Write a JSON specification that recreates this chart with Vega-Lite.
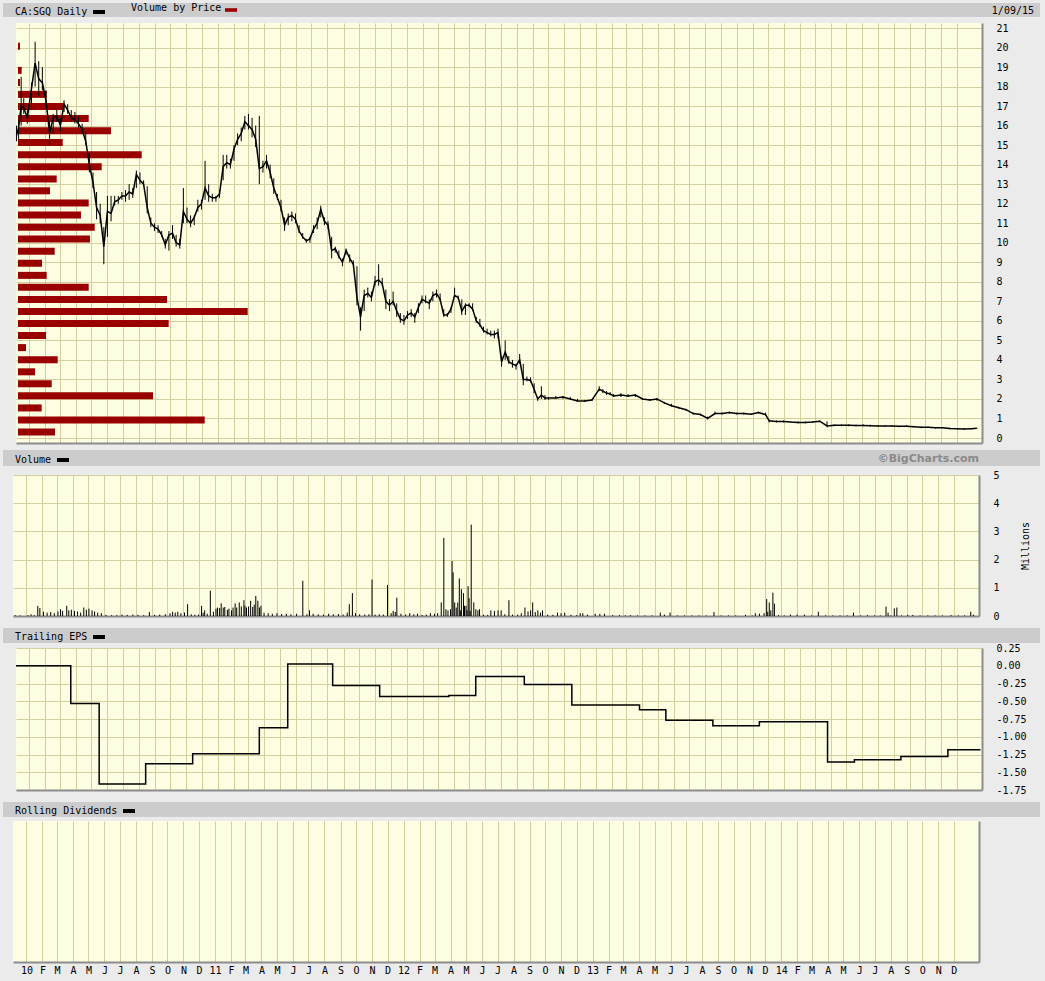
{
  "$schema": "https://vega.github.io/schema/vega-lite/v6.json",
  "background": "#ebebeb",
  "padding": {"left": 3, "top": 3, "right": 5, "bottom": 0},
  "config": {
    "font": "DejaVu Sans Mono",
    "view": {"stroke": null},
    "axis": {"labelFont": "DejaVu Sans Mono", "labelFontSize": 10, "labelColor": "black", "gridColor": "#d3d09e", "gridOpacity": 1, "gridWidth": 1, "domainColor": "#8c8c8c", "domainWidth": 2, "ticks": false, "titleFont": "DejaVu Sans Mono", "titleFontSize": 10, "titleFontWeight": "normal", "titleColor": "black"},
    "legend": {"titleFont": "DejaVu Sans Mono", "titleFontSize": 10, "titleFontWeight": "normal", "titleColor": "black", "titlePadding": 3, "padding": 0, "labelOffset": 0, "labelFontSize": 1, "symbolOpacity": 1},
    "title": {"font": "DejaVu Sans Mono", "fontSize": 10, "fontWeight": "normal", "color": "black"}
  },
  "datasets": {
    "price": [
      {"d":"2009-12-07","lo":15.2,"hi":16.0,"c":15.5},{"d":"2009-12-11","lo":15.3,"hi":16.2,"c":15.9},{"d":"2009-12-16","lo":16.0,"hi":18.5,"c":17.0},{"d":"2009-12-21","lo":16.6,"hi":17.4,"c":16.9},{"d":"2009-12-28","lo":16.1,"hi":16.8,"c":16.4},
      {"d":"2010-01-05","lo":16.8,"hi":18.2,"c":17.9},{"d":"2010-01-12","lo":18.0,"hi":20.3,"c":19.2},{"d":"2010-01-19","lo":17.5,"hi":19.3,"c":18.4},{"d":"2010-01-26","lo":17.8,"hi":19.0,"c":18.2},{"d":"2010-02-02","lo":17.0,"hi":17.8,"c":17.3},
      {"d":"2010-02-09","lo":15.0,"hi":16.2,"c":15.6},{"d":"2010-02-16","lo":15.6,"hi":16.6,"c":16.4},{"d":"2010-02-23","lo":16.2,"hi":16.8,"c":16.5},{"d":"2010-03-02","lo":15.7,"hi":16.4,"c":16.0},{"d":"2010-03-09","lo":16.7,"hi":17.3,"c":17.1},
      {"d":"2010-03-16","lo":16.6,"hi":17.1,"c":16.8},{"d":"2010-03-23","lo":16.2,"hi":16.8,"c":16.4},{"d":"2010-03-30","lo":16.1,"hi":16.7,"c":16.3},{"d":"2010-04-06","lo":15.9,"hi":16.5,"c":16.1},{"d":"2010-04-13","lo":15.6,"hi":16.1,"c":15.8},
      {"d":"2010-04-20","lo":15.0,"hi":15.7,"c":15.2},{"d":"2010-04-27","lo":13.6,"hi":14.6,"c":14.0},{"d":"2010-05-04","lo":12.8,"hi":13.6,"c":13.1},{"d":"2010-05-11","lo":11.2,"hi":12.6,"c":11.8},{"d":"2010-05-18","lo":11.0,"hi":12.0,"c":11.4},
      {"d":"2010-05-25","lo":8.9,"hi":10.8,"c":9.8},{"d":"2010-06-01","lo":10.3,"hi":12.4,"c":11.6},{"d":"2010-06-08","lo":11.1,"hi":12.4,"c":11.5},{"d":"2010-06-15","lo":11.9,"hi":12.4,"c":12.1},{"d":"2010-06-22","lo":12.0,"hi":12.4,"c":12.2},
      {"d":"2010-06-29","lo":12.2,"hi":12.6,"c":12.4},{"d":"2010-07-06","lo":12.1,"hi":12.7,"c":12.4},{"d":"2010-07-13","lo":12.2,"hi":13.0,"c":12.6},{"d":"2010-07-20","lo":12.3,"hi":12.8,"c":12.5},{"d":"2010-07-27","lo":12.8,"hi":13.7,"c":13.5},
      {"d":"2010-08-03","lo":13.0,"hi":13.6,"c":13.2},{"d":"2010-08-10","lo":12.9,"hi":13.2,"c":13.0},{"d":"2010-08-17","lo":11.5,"hi":12.9,"c":11.8},{"d":"2010-08-24","lo":10.8,"hi":11.3,"c":11.0},{"d":"2010-08-31","lo":10.6,"hi":11.0,"c":10.8},
      {"d":"2010-09-07","lo":10.5,"hi":10.9,"c":10.7},{"d":"2010-09-14","lo":10.3,"hi":10.6,"c":10.4},{"d":"2010-09-21","lo":9.7,"hi":10.2,"c":9.9},{"d":"2010-09-28","lo":9.6,"hi":10.6,"c":10.4},{"d":"2010-10-05","lo":10.2,"hi":10.9,"c":10.5},
      {"d":"2010-10-12","lo":9.8,"hi":10.4,"c":10.0},{"d":"2010-10-19","lo":9.7,"hi":10.2,"c":9.9},{"d":"2010-10-26","lo":11.0,"hi":12.8,"c":11.6},{"d":"2010-11-02","lo":11.0,"hi":11.8,"c":11.2},{"d":"2010-11-09","lo":10.8,"hi":11.4,"c":11.0},
      {"d":"2010-11-16","lo":10.9,"hi":11.4,"c":11.3},{"d":"2010-11-23","lo":11.6,"hi":12.2,"c":11.8},{"d":"2010-11-30","lo":11.7,"hi":12.2,"c":12.0},{"d":"2010-12-07","lo":12.2,"hi":14.2,"c":12.8},{"d":"2010-12-14","lo":12.1,"hi":13.0,"c":12.4},
      {"d":"2010-12-21","lo":12.1,"hi":12.5,"c":12.3},{"d":"2010-12-28","lo":12.1,"hi":12.4,"c":12.3},{"d":"2011-01-04","lo":12.3,"hi":12.7,"c":12.5},{"d":"2011-01-11","lo":13.2,"hi":14.5,"c":13.9},{"d":"2011-01-18","lo":13.8,"hi":14.5,"c":14.1},
      {"d":"2011-01-25","lo":13.8,"hi":14.3,"c":14.0},{"d":"2011-02-01","lo":14.2,"hi":15.0,"c":14.8},{"d":"2011-02-08","lo":15.0,"hi":15.6,"c":15.3},{"d":"2011-02-15","lo":15.2,"hi":15.9,"c":15.6},{"d":"2011-02-22","lo":15.8,"hi":16.5,"c":16.2},
      {"d":"2011-03-01","lo":15.8,"hi":16.6,"c":16.0},{"d":"2011-03-08","lo":15.4,"hi":16.4,"c":15.8},{"d":"2011-03-15","lo":14.9,"hi":16.0,"c":15.3},{"d":"2011-03-22","lo":13.0,"hi":16.5,"c":13.8},{"d":"2011-03-29","lo":13.6,"hi":14.2,"c":13.9},
      {"d":"2011-04-05","lo":13.8,"hi":14.5,"c":14.2},{"d":"2011-04-12","lo":13.3,"hi":14.0,"c":13.6},{"d":"2011-04-19","lo":12.5,"hi":13.3,"c":12.8},{"d":"2011-04-26","lo":12.2,"hi":12.5,"c":12.3},{"d":"2011-05-03","lo":11.6,"hi":12.2,"c":11.8},
      {"d":"2011-05-10","lo":10.6,"hi":11.3,"c":10.9},{"d":"2011-05-17","lo":10.9,"hi":11.5,"c":11.3},{"d":"2011-05-24","lo":11.1,"hi":11.6,"c":11.4},{"d":"2011-05-31","lo":11.0,"hi":11.5,"c":11.2},{"d":"2011-06-07","lo":10.5,"hi":10.9,"c":10.6},
      {"d":"2011-06-14","lo":10.2,"hi":10.5,"c":10.3},{"d":"2011-06-21","lo":10.0,"hi":10.2,"c":10.1},{"d":"2011-06-28","lo":10.0,"hi":10.3,"c":10.2},{"d":"2011-07-05","lo":10.5,"hi":10.9,"c":10.7},{"d":"2011-07-12","lo":10.7,"hi":11.3,"c":11.0},
      {"d":"2011-07-19","lo":11.3,"hi":11.9,"c":11.7},{"d":"2011-07-26","lo":10.9,"hi":11.3,"c":11.1},{"d":"2011-08-02","lo":10.7,"hi":11.1,"c":10.9},{"d":"2011-08-09","lo":9.2,"hi":10.3,"c":9.6},{"d":"2011-08-16","lo":9.5,"hi":9.8,"c":9.7},
      {"d":"2011-08-23","lo":9.2,"hi":9.6,"c":9.3},{"d":"2011-08-30","lo":8.8,"hi":9.2,"c":9.0},{"d":"2011-09-06","lo":9.4,"hi":9.7,"c":9.6},{"d":"2011-09-13","lo":9.0,"hi":9.4,"c":9.2},{"d":"2011-09-20","lo":8.8,"hi":9.1,"c":8.9},
      {"d":"2011-09-27","lo":6.8,"hi":8.8,"c":7.2},{"d":"2011-10-04","lo":5.5,"hi":6.7,"c":6.2},{"d":"2011-10-11","lo":6.5,"hi":7.6,"c":7.3},{"d":"2011-10-18","lo":7.2,"hi":7.7,"c":7.4},{"d":"2011-10-25","lo":7.0,"hi":7.5,"c":7.2},
      {"d":"2011-11-01","lo":7.8,"hi":8.3,"c":8.0},{"d":"2011-11-08","lo":7.8,"hi":8.9,"c":8.1},{"d":"2011-11-15","lo":7.8,"hi":8.2,"c":7.9},{"d":"2011-11-22","lo":6.6,"hi":7.6,"c":7.0},{"d":"2011-11-29","lo":6.5,"hi":7.1,"c":6.8},
      {"d":"2011-12-06","lo":6.8,"hi":7.5,"c":7.0},{"d":"2011-12-13","lo":6.2,"hi":6.9,"c":6.5},{"d":"2011-12-20","lo":5.9,"hi":6.4,"c":6.1},{"d":"2011-12-27","lo":5.8,"hi":6.3,"c":6.0},{"d":"2012-01-03","lo":6.1,"hi":6.5,"c":6.3},
      {"d":"2012-01-10","lo":6.2,"hi":6.6,"c":6.4},{"d":"2012-01-17","lo":5.9,"hi":6.4,"c":6.2},{"d":"2012-01-24","lo":6.4,"hi":6.9,"c":6.7},{"d":"2012-01-31","lo":6.9,"hi":7.3,"c":7.1},{"d":"2012-02-07","lo":6.9,"hi":7.3,"c":7.0},
      {"d":"2012-02-14","lo":6.6,"hi":7.1,"c":6.9},{"d":"2012-02-21","lo":7.0,"hi":7.5,"c":7.3},{"d":"2012-02-28","lo":7.2,"hi":7.6,"c":7.4},{"d":"2012-03-06","lo":7.0,"hi":7.4,"c":7.1},{"d":"2012-03-13","lo":6.2,"hi":6.6,"c":6.3},
      {"d":"2012-03-20","lo":6.2,"hi":6.4,"c":6.3},{"d":"2012-03-27","lo":6.4,"hi":6.7,"c":6.6},{"d":"2012-04-03","lo":7.2,"hi":7.7,"c":7.3},{"d":"2012-04-10","lo":7.1,"hi":7.3,"c":7.2},{"d":"2012-04-17","lo":6.3,"hi":7.1,"c":6.5},
      {"d":"2012-04-24","lo":6.3,"hi":6.9,"c":6.8},{"d":"2012-05-01","lo":6.7,"hi":6.9,"c":6.8},{"d":"2012-05-08","lo":6.5,"hi":6.9,"c":6.6},{"d":"2012-05-15","lo":5.9,"hi":6.2,"c":6.0},{"d":"2012-05-22","lo":5.7,"hi":6.1,"c":5.8},
      {"d":"2012-05-29","lo":5.4,"hi":5.7,"c":5.5},{"d":"2012-06-05","lo":5.3,"hi":5.6,"c":5.4},{"d":"2012-06-12","lo":5.2,"hi":5.5,"c":5.3},{"d":"2012-06-19","lo":5.1,"hi":5.5,"c":5.3},{"d":"2012-06-26","lo":5.1,"hi":5.6,"c":5.4},
      {"d":"2012-07-03","lo":3.65,"hi":4.2,"c":3.9},{"d":"2012-07-10","lo":4.0,"hi":5.0,"c":4.4},{"d":"2012-07-17","lo":3.8,"hi":4.2,"c":3.9},{"d":"2012-07-24","lo":3.6,"hi":4.0,"c":3.8},{"d":"2012-07-31","lo":3.5,"hi":3.8,"c":3.7},
      {"d":"2012-08-07","lo":3.8,"hi":4.3,"c":4.0},{"d":"2012-08-14","lo":2.7,"hi":3.8,"c":3.0},{"d":"2012-08-21","lo":2.9,"hi":3.15,"c":3.0},{"d":"2012-08-28","lo":2.85,"hi":3.1,"c":2.95},{"d":"2012-09-04","lo":2.3,"hi":2.8,"c":2.5},
      {"d":"2012-09-11","lo":1.9,"hi":2.1,"c":2.0},{"d":"2012-09-18","lo":2.0,"hi":2.65,"c":2.2},{"d":"2012-09-25","lo":1.95,"hi":2.2,"c":2.05},{"d":"2012-10-02","lo":1.95,"hi":2.1,"c":2.05},{"d":"2012-10-16","lo":2.0,"hi":2.15,"c":2.05},
      {"d":"2012-10-30","lo":2.0,"hi":2.15,"c":2.1},{"d":"2012-11-13","lo":1.95,"hi":2.1,"c":2.0},{"d":"2012-11-27","lo":1.85,"hi":2.0,"c":1.9},{"d":"2012-12-11","lo":1.85,"hi":1.95,"c":1.9},{"d":"2012-12-25","lo":1.9,"hi":2.0,"c":1.95},
      {"d":"2013-01-08","lo":2.4,"hi":2.65,"c":2.5},{"d":"2013-01-15","lo":2.3,"hi":2.5,"c":2.4},{"d":"2013-01-22","lo":2.2,"hi":2.4,"c":2.3},{"d":"2013-01-29","lo":2.2,"hi":2.35,"c":2.25},{"d":"2013-02-05","lo":2.1,"hi":2.25,"c":2.15},
      {"d":"2013-02-19","lo":2.1,"hi":2.3,"c":2.2},{"d":"2013-03-05","lo":2.1,"hi":2.25,"c":2.15},{"d":"2013-03-19","lo":2.1,"hi":2.25,"c":2.2},{"d":"2013-04-02","lo":1.95,"hi":2.05,"c":2.0},{"d":"2013-04-16","lo":1.9,"hi":2.0,"c":1.95},
      {"d":"2013-04-30","lo":1.9,"hi":2.05,"c":2.0},{"d":"2013-05-14","lo":1.75,"hi":1.85,"c":1.8},{"d":"2013-05-28","lo":1.6,"hi":1.75,"c":1.65},{"d":"2013-06-11","lo":1.5,"hi":1.6,"c":1.55},{"d":"2013-06-25","lo":1.4,"hi":1.5,"c":1.45},
      {"d":"2013-07-09","lo":1.2,"hi":1.3,"c":1.25},{"d":"2013-07-23","lo":1.15,"hi":1.25,"c":1.2},{"d":"2013-08-06","lo":0.95,"hi":1.1,"c":1.0},{"d":"2013-08-20","lo":1.2,"hi":1.35,"c":1.25},{"d":"2013-09-03","lo":1.2,"hi":1.3,"c":1.25},
      {"d":"2013-09-17","lo":1.25,"hi":1.35,"c":1.3},{"d":"2013-10-01","lo":1.2,"hi":1.3,"c":1.25},{"d":"2013-10-15","lo":1.2,"hi":1.3,"c":1.25},{"d":"2013-10-29","lo":1.2,"hi":1.25,"c":1.22},{"d":"2013-11-12","lo":1.25,"hi":1.35,"c":1.3},
      {"d":"2013-11-26","lo":1.15,"hi":1.3,"c":1.2},{"d":"2013-12-03","lo":0.8,"hi":0.95,"c":0.88},{"d":"2013-12-17","lo":0.8,"hi":0.9,"c":0.85},{"d":"2013-12-31","lo":0.8,"hi":0.9,"c":0.85},{"d":"2014-01-14","lo":0.8,"hi":0.85,"c":0.82},
      {"d":"2014-01-28","lo":0.75,"hi":0.85,"c":0.8},{"d":"2014-02-11","lo":0.75,"hi":0.85,"c":0.8},{"d":"2014-02-25","lo":0.78,"hi":0.85,"c":0.82},{"d":"2014-03-11","lo":0.82,"hi":0.9,"c":0.86},{"d":"2014-03-25","lo":0.55,"hi":0.85,"c":0.62},
      {"d":"2014-04-08","lo":0.6,"hi":0.7,"c":0.65},{"d":"2014-04-22","lo":0.6,"hi":0.7,"c":0.65},{"d":"2014-05-06","lo":0.6,"hi":0.7,"c":0.65},{"d":"2014-05-20","lo":0.6,"hi":0.68,"c":0.64},{"d":"2014-06-03","lo":0.6,"hi":0.7,"c":0.64},
      {"d":"2014-06-17","lo":0.6,"hi":0.68,"c":0.63},{"d":"2014-07-01","lo":0.6,"hi":0.65,"c":0.62},{"d":"2014-07-15","lo":0.58,"hi":0.65,"c":0.62},{"d":"2014-07-29","lo":0.58,"hi":0.65,"c":0.61},{"d":"2014-08-12","lo":0.55,"hi":0.62,"c":0.6},
      {"d":"2014-08-26","lo":0.58,"hi":0.65,"c":0.6},{"d":"2014-09-09","lo":0.55,"hi":0.62,"c":0.58},{"d":"2014-09-23","lo":0.5,"hi":0.58,"c":0.55},{"d":"2014-10-07","lo":0.52,"hi":0.58,"c":0.55},{"d":"2014-10-21","lo":0.48,"hi":0.55,"c":0.52},
      {"d":"2014-11-04","lo":0.5,"hi":0.56,"c":0.53},{"d":"2014-11-18","lo":0.45,"hi":0.52,"c":0.49},{"d":"2014-12-02","lo":0.45,"hi":0.5,"c":0.48},{"d":"2014-12-16","lo":0.42,"hi":0.5,"c":0.46},{"d":"2014-12-30","lo":0.45,"hi":0.5,"c":0.48},
      {"d":"2015-01-09","lo":0.48,"hi":0.52,"c":0.5}
    ],
    "vbp": [
      {"p":20.07,"vol":2},{"p":18.83,"vol":3.7},{"p":18.21,"vol":2},{"p":17.6,"vol":28.7},{"p":16.98,"vol":46.3},{"p":16.36,"vol":70.7},{"p":15.74,"vol":93},{"p":15.13,"vol":44.7},
      {"p":14.51,"vol":123.7},{"p":13.89,"vol":83.7},{"p":13.27,"vol":38.7},{"p":12.66,"vol":32},{"p":12.04,"vol":70.7},{"p":11.42,"vol":63},{"p":10.8,"vol":76.7},{"p":10.19,"vol":72},
      {"p":9.57,"vol":36.7},{"p":8.95,"vol":24},{"p":8.33,"vol":28.7},{"p":7.72,"vol":70.7},{"p":7.1,"vol":149},{"p":6.48,"vol":229.7},{"p":5.86,"vol":150.7},{"p":5.25,"vol":28},
      {"p":4.63,"vol":8},{"p":4.01,"vol":39.7},{"p":3.39,"vol":17},{"p":2.78,"vol":33.7},{"p":2.16,"vol":135},{"p":1.54,"vol":23.7},{"p":0.92,"vol":186.7},{"p":0.31,"vol":37}
    ],
    "vol": [
      {"d":"2009-12-10","v":0.03},{"d":"2009-12-20","v":0.02},{"d":"2010-01-04","v":0.03},{"d":"2010-01-10","v":0.06},{"d":"2010-01-16","v":0.03},{"d":"2010-01-23","v":0.36},{"d":"2010-01-27","v":0.28},
      {"d":"2010-02-03","v":0.15},{"d":"2010-02-10","v":0.12},{"d":"2010-02-17","v":0.14},{"d":"2010-02-24","v":0.1},{"d":"2010-03-03","v":0.16},{"d":"2010-03-08","v":0.24},{"d":"2010-03-12","v":0.18},
      {"d":"2010-03-20","v":0.36},{"d":"2010-03-24","v":0.2},{"d":"2010-03-29","v":0.22},{"d":"2010-04-04","v":0.18},{"d":"2010-04-10","v":0.16},{"d":"2010-04-16","v":0.12},{"d":"2010-04-22","v":0.3},
      {"d":"2010-04-27","v":0.22},{"d":"2010-05-02","v":0.26},{"d":"2010-05-08","v":0.2},{"d":"2010-05-13","v":0.16},{"d":"2010-05-19","v":0.12},{"d":"2010-05-26","v":0.1},{"d":"2010-06-04","v":0.04},
      {"d":"2010-06-15","v":0.03},{"d":"2010-06-25","v":0.03},{"d":"2010-07-05","v":0.05},{"d":"2010-07-15","v":0.04},{"d":"2010-07-26","v":0.05},{"d":"2010-08-05","v":0.04},{"d":"2010-08-16","v":0.03},
      {"d":"2010-08-27","v":0.14},{"d":"2010-09-06","v":0.04},{"d":"2010-09-16","v":0.05},{"d":"2010-09-27","v":0.06},{"d":"2010-10-06","v":0.1},{"d":"2010-10-11","v":0.15},{"d":"2010-10-16","v":0.12},
      {"d":"2010-10-21","v":0.15},{"d":"2010-10-27","v":0.1},{"d":"2010-11-03","v":0.12},{"d":"2010-11-09","v":0.42},{"d":"2010-11-16","v":0.06},{"d":"2010-11-23","v":0.05},{"d":"2010-11-30","v":0.05},
      {"d":"2010-12-06","v":0.36},{"d":"2010-12-09","v":0.12},{"d":"2010-12-12","v":0.2},{"d":"2010-12-17","v":0.08},{"d":"2010-12-23","v":0.9},{"d":"2010-12-29","v":0.15},{"d":"2011-01-03","v":0.26},
      {"d":"2011-01-06","v":0.3},{"d":"2011-01-10","v":0.28},{"d":"2011-01-13","v":0.45},{"d":"2011-01-17","v":0.3},{"d":"2011-01-20","v":0.32},{"d":"2011-01-25","v":0.22},{"d":"2011-01-28","v":0.26},
      {"d":"2011-02-02","v":0.2},{"d":"2011-02-05","v":0.3},{"d":"2011-02-09","v":0.45},{"d":"2011-02-12","v":0.3},{"d":"2011-02-17","v":0.48},{"d":"2011-02-21","v":0.34},{"d":"2011-02-26","v":0.56},
      {"d":"2011-02-28","v":0.36},{"d":"2011-03-03","v":0.3},{"d":"2011-03-07","v":0.34},{"d":"2011-03-11","v":0.54},{"d":"2011-03-15","v":0.32},{"d":"2011-03-18","v":0.4},{"d":"2011-03-21","v":0.71},
      {"d":"2011-03-25","v":0.54},{"d":"2011-03-28","v":0.3},{"d":"2011-03-31","v":0.36},{"d":"2011-04-06","v":0.12},{"d":"2011-04-14","v":0.1},{"d":"2011-04-22","v":0.08},{"d":"2011-05-01","v":0.1},
      {"d":"2011-05-10","v":0.07},{"d":"2011-05-19","v":0.08},{"d":"2011-05-28","v":0.06},{"d":"2011-06-08","v":0.08},{"d":"2011-06-20","v":1.25},{"d":"2011-06-28","v":0.06},{"d":"2011-07-03","v":0.2},
      {"d":"2011-07-10","v":0.08},{"d":"2011-07-20","v":0.06},{"d":"2011-07-30","v":0.05},{"d":"2011-08-09","v":0.08},{"d":"2011-08-18","v":0.06},{"d":"2011-08-28","v":0.07},{"d":"2011-09-06","v":0.05},
      {"d":"2011-09-14","v":0.12},{"d":"2011-09-18","v":0.42},{"d":"2011-09-24","v":0.81},{"d":"2011-09-30","v":0.1},{"d":"2011-10-08","v":0.06},{"d":"2011-10-18","v":0.05},{"d":"2011-10-26","v":0.06},
      {"d":"2011-11-01","v":1.29},{"d":"2011-11-07","v":0.05},{"d":"2011-11-15","v":0.06},{"d":"2011-11-23","v":0.05},{"d":"2011-12-01","v":1.1},{"d":"2011-12-08","v":0.1},{"d":"2011-12-12","v":0.18},
      {"d":"2011-12-16","v":0.14},{"d":"2011-12-19","v":0.65},{"d":"2011-12-27","v":0.08},{"d":"2012-01-05","v":0.05},{"d":"2012-01-13","v":0.1},{"d":"2012-01-21","v":0.06},{"d":"2012-01-28","v":0.08},
      {"d":"2012-02-06","v":0.04},{"d":"2012-02-14","v":0.05},{"d":"2012-02-22","v":0.1},{"d":"2012-03-01","v":0.08},{"d":"2012-03-07","v":0.1},{"d":"2012-03-14","v":0.48},{"d":"2012-03-19","v":2.77},
      {"d":"2012-03-23","v":0.24},{"d":"2012-03-27","v":0.2},{"d":"2012-04-01","v":0.24},{"d":"2012-04-04","v":1.95},{"d":"2012-04-06","v":1.55},{"d":"2012-04-09","v":0.48},{"d":"2012-04-12","v":0.3},
      {"d":"2012-04-15","v":0.48},{"d":"2012-04-18","v":1.33},{"d":"2012-04-20","v":0.2},{"d":"2012-04-22","v":0.95},{"d":"2012-04-26","v":0.81},{"d":"2012-04-28","v":0.36},{"d":"2012-05-01","v":0.36},
      {"d":"2012-05-03","v":0.2},{"d":"2012-05-05","v":1.06},{"d":"2012-05-07","v":0.63},{"d":"2012-05-09","v":0.18},{"d":"2012-05-11","v":3.24},{"d":"2012-05-16","v":0.48},{"d":"2012-05-20","v":0.24},
      {"d":"2012-05-24","v":0.2},{"d":"2012-05-27","v":0.24},{"d":"2012-06-04","v":0.05},{"d":"2012-06-12","v":0.04},{"d":"2012-06-18","v":0.2},{"d":"2012-06-25","v":0.18},{"d":"2012-07-02","v":0.2},
      {"d":"2012-07-08","v":0.2},{"d":"2012-07-15","v":0.06},{"d":"2012-07-23","v":0.56},{"d":"2012-07-30","v":0.05},{"d":"2012-08-09","v":0.05},{"d":"2012-08-16","v":0.1},{"d":"2012-08-23","v":0.3},
      {"d":"2012-08-29","v":0.16},{"d":"2012-09-03","v":0.2},{"d":"2012-09-07","v":0.48},{"d":"2012-09-12","v":0.14},{"d":"2012-09-17","v":0.2},{"d":"2012-09-22","v":0.12},{"d":"2012-09-26","v":0.2},
      {"d":"2012-10-06","v":0.05},{"d":"2012-10-16","v":0.04},{"d":"2012-10-25","v":0.12},{"d":"2012-11-01","v":0.1},{"d":"2012-11-08","v":0.12},{"d":"2012-11-20","v":0.04},{"d":"2012-12-01","v":0.03},
      {"d":"2012-12-08","v":0.1},{"d":"2012-12-13","v":0.1},{"d":"2012-12-22","v":0.05},{"d":"2013-01-06","v":0.08},{"d":"2013-01-15","v":0.08},{"d":"2013-01-24","v":0.08},{"d":"2013-02-09","v":0.03},
      {"d":"2013-02-22","v":0.03},{"d":"2013-03-05","v":0.02},{"d":"2013-03-15","v":0.03},{"d":"2013-03-29","v":0.02},{"d":"2013-04-12","v":0.02},{"d":"2013-04-26","v":0.02},{"d":"2013-05-12","v":0.12},
      {"d":"2013-05-20","v":0.05},{"d":"2013-05-31","v":0.12},{"d":"2013-06-14","v":0.02},{"d":"2013-06-28","v":0.02},{"d":"2013-07-12","v":0.02},{"d":"2013-07-26","v":0.02},{"d":"2013-08-09","v":0.02},
      {"d":"2013-08-24","v":0.14},{"d":"2013-09-07","v":0.02},{"d":"2013-09-21","v":0.02},{"d":"2013-10-05","v":0.02},{"d":"2013-10-24","v":0.04},{"d":"2013-11-06","v":0.02},{"d":"2013-11-12","v":0.1},
      {"d":"2013-11-20","v":0.08},{"d":"2013-11-29","v":0.1},{"d":"2013-12-04","v":0.6},{"d":"2013-12-06","v":0.15},{"d":"2013-12-09","v":0.48},{"d":"2013-12-12","v":0.2},{"d":"2013-12-16","v":0.83},
      {"d":"2013-12-19","v":0.44},{"d":"2013-12-27","v":0.03},{"d":"2014-01-07","v":0.02},{"d":"2014-01-19","v":0.05},{"d":"2014-02-01","v":0.05},{"d":"2014-02-15","v":0.05},{"d":"2014-03-01","v":0.02},
      {"d":"2014-03-14","v":0.15},{"d":"2014-03-28","v":0.02},{"d":"2014-04-11","v":0.02},{"d":"2014-04-25","v":0.02},{"d":"2014-05-09","v":0.02},{"d":"2014-05-21","v":0.12},{"d":"2014-06-04","v":0.02},
      {"d":"2014-06-17","v":0.03},{"d":"2014-07-01","v":0.02},{"d":"2014-07-12","v":0.02},{"d":"2014-07-23","v":0.33},{"d":"2014-07-27","v":0.12},{"d":"2014-08-01","v":0.02},{"d":"2014-08-08","v":0.27},
      {"d":"2014-08-13","v":0.3},{"d":"2014-08-22","v":0.02},{"d":"2014-09-03","v":0.04},{"d":"2014-09-13","v":0.04},{"d":"2014-09-27","v":0.02},{"d":"2014-10-12","v":0.02},{"d":"2014-10-26","v":0.02},
      {"d":"2014-11-09","v":0.02},{"d":"2014-11-26","v":0.03},{"d":"2014-12-10","v":0.02},{"d":"2014-12-22","v":0.02},{"d":"2015-01-03","v":0.15},{"d":"2015-01-08","v":0.05}
    ],
    "eps": [
      {"d":"2009-12-06","eps":0.0},{"d":"2010-03-22","eps":-0.53},{"d":"2010-05-16","eps":-1.665},{"d":"2010-08-14","eps":-1.38},{"d":"2010-11-13","eps":-1.24},
      {"d":"2011-03-22","eps":-0.873},{"d":"2011-05-16","eps":0.024},{"d":"2011-08-11","eps":-0.278},{"d":"2011-11-10","eps":-0.434},{"d":"2012-03-23","eps":-0.42},
      {"d":"2012-05-14","eps":-0.151},{"d":"2012-08-16","eps":-0.264},{"d":"2012-11-16","eps":-0.552},{"d":"2013-03-27","eps":-0.618},{"d":"2013-05-17","eps":-0.769},
      {"d":"2013-08-16","eps":-0.844},{"d":"2013-11-14","eps":-0.788},{"d":"2014-03-26","eps":-1.354},{"d":"2014-05-17","eps":-1.325},{"d":"2014-08-15","eps":-1.278},
      {"d":"2014-11-14","eps":-1.184},{"d":"2015-01-16","eps":-1.184}
    ]
  },
  "vconcat": [
    {
      "vconcat": [
        {"width": 1037, "height": 14, "data": {"values": []}, "mark": {"type": "point", "opacity": 1}, "view": {"fill": "#cccccc", "stroke": null},
         "encoding": {
           "stroke": {"datum": "CA:SGQ Daily", "type": "nominal", "scale": {"range": ["black"]},
                      "legend": {"orient": "none", "legendX": 12, "legendY": 1, "title": "CA:SGQ Daily", "titleOrient": "left", "labelExpr": "''", "symbolType": "stroke", "symbolSize": 144, "symbolStrokeWidth": 4}},
           "fill": {"datum": "Volume by Price", "type": "nominal", "scale": {"range": ["#990000"]},
                    "legend": {"orient": "none", "legendX": 128, "legendY": 1, "title": "Volume by Price", "titleOrient": "left", "labelExpr": "''", "symbolType": "M-1,-0.3H1V0.3H-1Z", "symbolSize": 144, "symbolStrokeWidth": 0}}
         },
         "resolve": {"scale": {"stroke": "independent", "fill": "independent"}, "legend": {"stroke": "independent", "fill": "independent"}},
         "title": {"text": "1/09/15", "anchor": "end", "frame": "group", "orient": "top", "offset": -13, "dx": -6}},
        {"hconcat": [
          {"width": 10, "height": 420, "data": {"values": []}, "mark": "point", "encoding": {}, "view": {"fill": "#ebebeb", "stroke": null}},
          {"width": 966, "height": 420, "view": {"fill": "#fdfde2", "stroke": null},
           "layer": [
             {"data": {"name": "vbp"}, "mark": {"type": "bar", "orient": "horizontal", "size": 7, "color": "#990000"},
              "encoding": {
                "x": {"field": "vol", "type": "quantitative", "scale": {"domain": [-2, 964], "nice": false, "zero": false}, "axis": null},
                "y": {"field": "p", "type": "quantitative", "scale": {"domain": [0, 21], "nice": false}, "axis": {"title": null, "orient": "right", "values": [0,1,2,3,4,5,6,7,8,9,10,11,12,13,14,15,16,17,18,19,20,21], "format": "d", "labelPadding": 14, "grid": true}}
              }},
             {"data": {"name": "price"},
              "layer": [
                {"mark": {"type": "rule", "color": "black", "strokeWidth": 1},
                 "encoding": {
                   "x": {"field": "d", "type": "temporal", "scale": {"type": "utc", "domain": [{"year": 2009, "month": 12, "date": 6, "utc": true}, {"year": 2015, "month": 1, "date": 19, "utc": true}]}, "axis": {"title": null, "labels": false, "grid": true, "tickCount": {"interval": "month", "step": 1}, "gridOpacity": {"condition": {"test": "utcyear(datum.value) == 2015", "value": 0}, "value": 1}}},
                   "y": {"field": "lo", "type": "quantitative", "scale": {"domain": [0, 21], "nice": false}, "axis": {"title": null, "orient": "right", "values": [0,1,2,3,4,5,6,7,8,9,10,11,12,13,14,15,16,17,18,19,20,21], "format": "d", "labelPadding": 14, "grid": true}},
                   "y2": {"field": "hi"}
                 }},
                {"mark": {"type": "line", "strokeWidth": 1.5, "color": "black"},
                 "encoding": {
                   "x": {"field": "d", "type": "temporal", "scale": {"type": "utc", "domain": [{"year": 2009, "month": 12, "date": 6, "utc": true}, {"year": 2015, "month": 1, "date": 19, "utc": true}]}, "axis": {"title": null, "labels": false, "grid": true, "tickCount": {"interval": "month", "step": 1}, "gridOpacity": {"condition": {"test": "utcyear(datum.value) == 2015", "value": 0}, "value": 1}}},
                   "y": {"field": "c", "type": "quantitative", "scale": {"domain": [0, 21], "nice": false}, "axis": {"title": null, "orient": "right", "values": [0,1,2,3,4,5,6,7,8,9,10,11,12,13,14,15,16,17,18,19,20,21], "format": "d", "labelPadding": 14, "grid": true}}
                 }}
              ]}
           ],
           "resolve": {"scale": {"x": "independent"}, "axis": {"x": "independent"}}
          }
        ], "spacing": 0}
      ], "spacing": 3,
      "resolve": {"scale": {"stroke": "independent", "fill": "independent"}, "legend": {"stroke": "independent", "fill": "independent"}}
    },
    {
      "vconcat": [
        {"width": 1037, "height": 16, "data": {"values": []}, "mark": {"type": "point", "opacity": 1}, "view": {"fill": "#cccccc", "stroke": null},
         "encoding": {
           "stroke": {"datum": "Volume", "type": "nominal", "scale": {"range": ["black"]},
                      "legend": {"orient": "none", "legendX": 12, "legendY": 2, "title": "Volume", "titleOrient": "left", "labelExpr": "''", "symbolType": "stroke", "symbolSize": 144, "symbolStrokeWidth": 4}}
         },
         "title": {"text": "©BigCharts.com", "anchor": "end", "frame": "group", "orient": "top", "offset": -14, "dx": -61, "font": "DejaVu Sans", "fontWeight": "bold", "fontSize": 11, "color": "#8a8a8a"}},
        {"hconcat": [
          {"width": 10, "height": 141, "data": {"values": []}, "mark": "point", "encoding": {}, "view": {"fill": "#ebebeb", "stroke": null}},
          {"width": 966, "height": 141, "view": {"fill": "#fdfde2", "stroke": null},
           "data": {"name": "vol"},
           "mark": {"type": "rule", "strokeWidth": 1, "color": "black"},
           "encoding": {
             "x": {"field": "d", "type": "temporal", "scale": {"type": "utc", "domain": [{"year": 2009, "month": 12, "date": 6, "utc": true}, {"year": 2015, "month": 1, "date": 19, "utc": true}]}, "axis": {"title": null, "labels": false, "grid": true, "tickCount": {"interval": "month", "step": 1}, "gridOpacity": {"condition": {"test": "utcyear(datum.value) == 2015", "value": 0}, "value": 1}}},
             "y": {"field": "v", "type": "quantitative", "scale": {"domain": [0, 5], "nice": false}, "axis": {"title": "Millions", "titleAngle": 270, "titlePadding": 31, "orient": "right", "values": [0,1,2,3,4,5], "format": "d", "labelPadding": 14, "grid": true}},
             "y2": {"datum": 0}
           }}
        ], "spacing": 0}
      ], "spacing": 4
    },
    {
      "vconcat": [
        {"width": 1037, "height": 15, "data": {"values": []}, "mark": {"type": "point", "opacity": 1}, "view": {"fill": "#cccccc", "stroke": null},
         "encoding": {
           "stroke": {"datum": "Trailing EPS", "type": "nominal", "scale": {"range": ["black"]},
                      "legend": {"orient": "none", "legendX": 12, "legendY": 1, "title": "Trailing EPS", "titleOrient": "left", "labelExpr": "''", "symbolType": "stroke", "symbolSize": 144, "symbolStrokeWidth": 4}}
         }},
        {"hconcat": [
          {"width": 10, "height": 142, "data": {"values": []}, "mark": "point", "encoding": {}, "view": {"fill": "#ebebeb", "stroke": null}},
          {"width": 966, "height": 142, "view": {"fill": "#fdfde2", "stroke": null},
           "data": {"name": "eps"},
           "mark": {"type": "line", "interpolate": "step-after", "strokeWidth": 1.5, "color": "black"},
           "encoding": {
             "x": {"field": "d", "type": "temporal", "scale": {"type": "utc", "domain": [{"year": 2009, "month": 12, "date": 6, "utc": true}, {"year": 2015, "month": 1, "date": 19, "utc": true}]}, "axis": {"title": null, "labels": false, "grid": true, "tickCount": {"interval": "month", "step": 1}, "gridOpacity": {"condition": {"test": "utcyear(datum.value) == 2015", "value": 0}, "value": 1}}},
             "y": {"field": "eps", "type": "quantitative", "scale": {"domain": [-1.75, 0.25], "nice": false, "zero": false}, "axis": {"title": null, "orient": "right", "values": [-1.75,-1.5,-1.25,-1,-0.75,-0.5,-0.25,0,0.25], "labelExpr": "replace(format(datum.value, '.2f'), '−', '-')", "labelPadding": 14, "grid": true}}
           }}
        ], "spacing": 0}
      ], "spacing": 0
    },
    {
      "vconcat": [
        {"width": 1037, "height": 15, "data": {"values": []}, "mark": {"type": "point", "opacity": 1}, "view": {"fill": "#cccccc", "stroke": null},
         "encoding": {
           "stroke": {"datum": "Rolling Dividends", "type": "nominal", "scale": {"range": ["black"]},
                      "legend": {"orient": "none", "legendX": 12, "legendY": 1, "title": "Rolling Dividends", "titleOrient": "left", "labelExpr": "''", "symbolType": "stroke", "symbolSize": 144, "symbolStrokeWidth": 4}}
         }},
        {"hconcat": [
          {"width": 10, "height": 141, "data": {"values": []}, "mark": "point", "encoding": {}, "view": {"fill": "#ebebeb", "stroke": null}},
          {"width": 966, "height": 141, "view": {"fill": "#fdfde2", "stroke": null},
           "data": {"values": [{"d": "2010-01-01", "v": -1}]},
           "mark": {"type": "rule", "strokeWidth": 1, "color": "black", "opacity": 0},
           "encoding": {
             "x": {"field": "d", "type": "temporal", "scale": {"type": "utc", "domain": [{"year": 2009, "month": 12, "date": 6, "utc": true}, {"year": 2015, "month": 1, "date": 19, "utc": true}]},
                   "axis": {"title": null, "grid": true, "tickCount": {"interval": "month", "step": 1}, "labelPadding": 3, "labelOverlap": false, "labelFlush": false,
                            "gridOpacity": {"condition": {"test": "utcyear(datum.value) == 2015", "value": 0}, "value": 1},
                            "labelExpr": "utcyear(datum.value) == 2015 ? '' : (utcmonth(datum.value) == 0 ? utcFormat(datum.value, '%y') : substring(utcFormat(datum.value, '%b'), 0, 1))"}},
             "y": {"field": "v", "type": "quantitative", "scale": {"domain": [0, 1], "nice": false}, "axis": {"title": null, "orient": "right", "labels": false, "grid": false}}
           }}
        ], "spacing": 0}
      ], "spacing": 4
    }
  ],
  "spacing": 7,
  "resolve": {"scale": {"stroke": "independent", "fill": "independent"}, "legend": {"stroke": "independent", "fill": "independent"}}
}
